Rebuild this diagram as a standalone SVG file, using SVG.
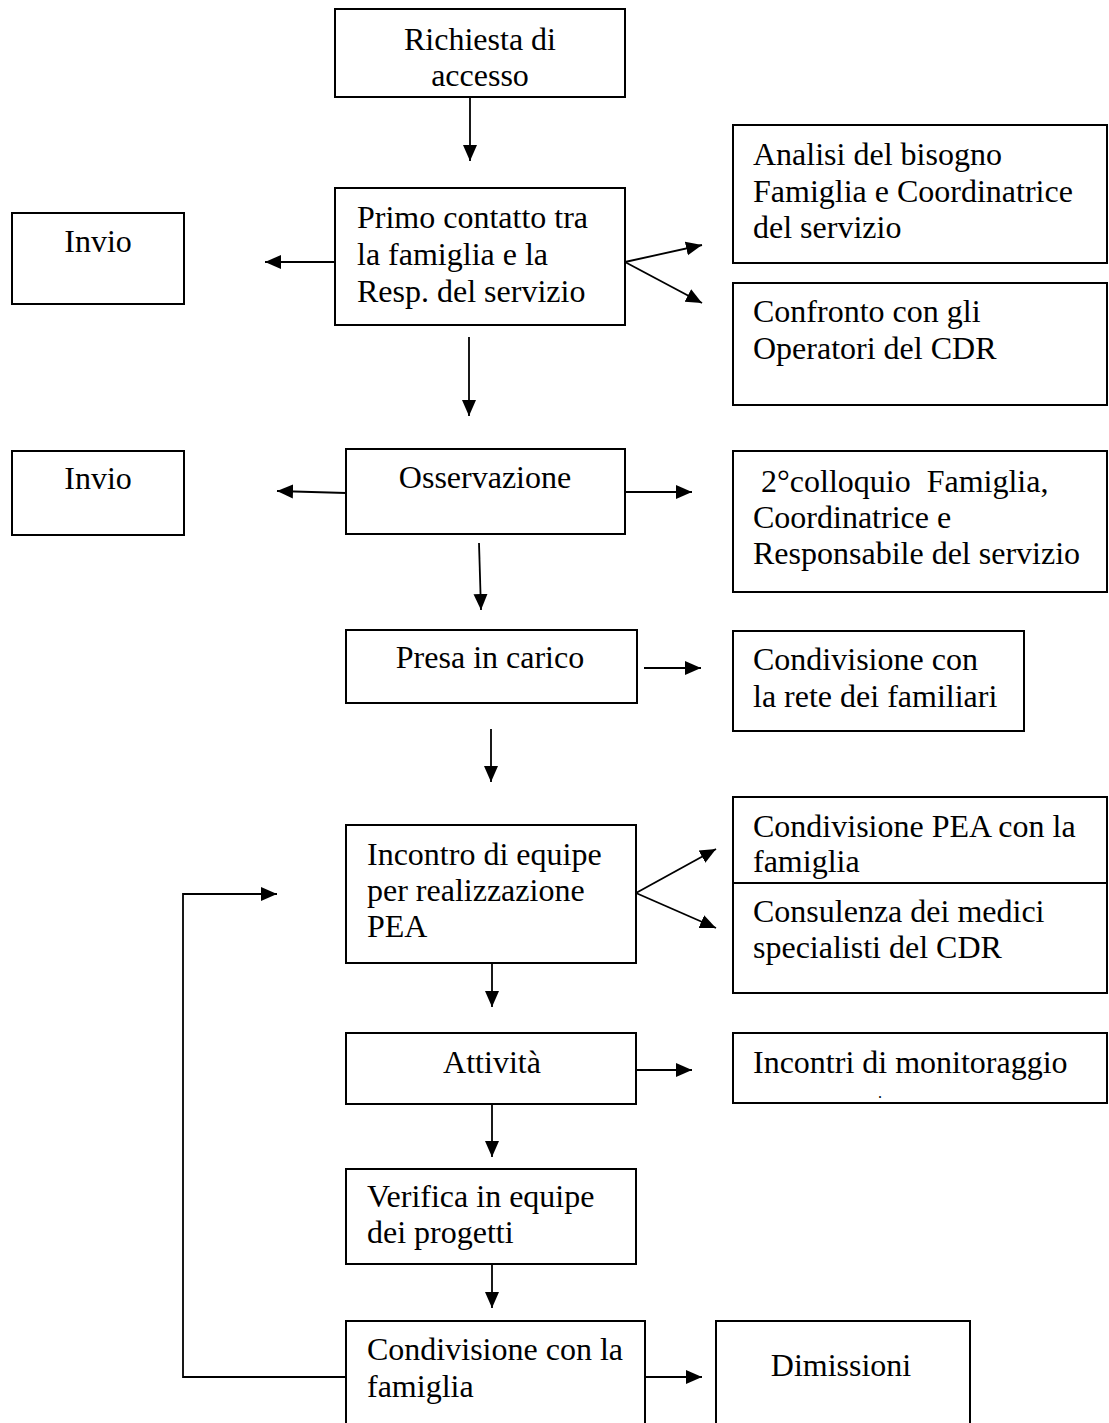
<svg xmlns="http://www.w3.org/2000/svg" width="1109" height="1423" viewBox="0 0 1109 1423">
<style>
  .box { fill: #fff; stroke: #000; stroke-width: 2; }
  .t { font-family: "Liberation Serif", "Times New Roman", serif; font-size: 32px; fill: #000; }
  .c { text-anchor: middle; }
  .pre { white-space: pre; }
  .ln { stroke: #000; stroke-width: 1.8; fill: none; }
</style>
<defs>
  <marker id="ah" markerUnits="userSpaceOnUse" markerWidth="17" markerHeight="16" refX="16" refY="8" orient="auto">
    <path d="M0,1 L16,8 L0,15 z" fill="#000"/>
  </marker>
</defs>
<rect width="1109" height="1423" fill="#fff"/>

<g id="n-richiesta">
  <rect class="box" x="335" y="9" width="290" height="88"/>
  <text class="t c" x="480" y="50">Richiesta di</text>
  <text class="t c" x="480" y="86">accesso</text>
</g>
<g id="n-primo">
  <rect class="box" x="335" y="188" width="290" height="137"/>
  <text class="t" x="357" y="228">Primo contatto tra</text>
  <text class="t" x="357" y="265">la famiglia e la</text>
  <text class="t" x="357" y="302">Resp. del servizio</text>
</g>
<g id="n-invio1">
  <rect class="box" x="12" y="213" width="172" height="91"/>
  <text class="t c" x="98" y="252">Invio</text>
</g>
<g id="n-analisi">
  <rect class="box" x="733" y="125" width="374" height="138"/>
  <text class="t" x="753" y="165">Analisi del bisogno</text>
  <text class="t" x="753" y="202">Famiglia e Coordinatrice</text>
  <text class="t" x="753" y="238">del servizio</text>
</g>
<g id="n-confronto">
  <rect class="box" x="733" y="283" width="374" height="122"/>
  <text class="t" x="753" y="322">Confronto con gli</text>
  <text class="t" x="753" y="359">Operatori del CDR</text>
</g>
<g id="n-invio2">
  <rect class="box" x="12" y="451" width="172" height="84"/>
  <text class="t c" x="98" y="489">Invio</text>
</g>
<g id="n-osservazione">
  <rect class="box" x="346" y="449" width="279" height="85"/>
  <text class="t c" x="485" y="488">Osservazione</text>
</g>
<g id="n-colloquio">
  <rect class="box" x="733" y="451" width="374" height="141"/>
  <text class="t pre" x="753" y="492" xml:space="preserve"> 2°colloquio  Famiglia,</text>
  <text class="t" x="753" y="528">Coordinatrice e</text>
  <text class="t" x="753" y="564">Responsabile del servizio</text>
</g>
<g id="n-presa">
  <rect class="box" x="346" y="630" width="291" height="73"/>
  <text class="t c" x="490" y="668">Presa in carico</text>
</g>
<g id="n-rete">
  <rect class="box" x="733" y="631" width="291" height="100"/>
  <text class="t" x="753" y="670">Condivisione con</text>
  <text class="t" x="753" y="707">la rete dei familiari</text>
</g>
<g id="n-incontro">
  <rect class="box" x="346" y="825" width="290" height="138"/>
  <text class="t" x="367" y="865">Incontro di equipe</text>
  <text class="t" x="367" y="901">per realizzazione</text>
  <text class="t" x="367" y="937">PEA</text>
</g>
<g id="n-condpea">
  <rect class="box" x="733" y="797" width="374" height="86"/>
  <text class="t" x="753" y="837">Condivisione PEA con la</text>
  <text class="t" x="753" y="872">famiglia</text>
</g>
<g id="n-consulenza">
  <rect class="box" x="733" y="883" width="374" height="110"/>
  <text class="t" x="753" y="922">Consulenza dei medici</text>
  <text class="t" x="753" y="958">specialisti del CDR</text>
</g>
<g id="n-attivita">
  <rect class="box" x="346" y="1033" width="290" height="71"/>
  <text class="t c" x="492" y="1073">Attività</text>
</g>
<g id="n-monitoraggio">
  <rect class="box" x="733" y="1033" width="374" height="70"/>
  <text class="t" x="753" y="1073">Incontri di monitoraggio</text>
  <text class="t" x="878" y="1098" style="font-size:16px">.</text>
</g>
<g id="n-verifica">
  <rect class="box" x="346" y="1169" width="290" height="95"/>
  <text class="t" x="367" y="1207">Verifica in equipe</text>
  <text class="t" x="367" y="1243">dei progetti</text>
</g>
<g id="n-condfam">
  <rect class="box" x="346" y="1321" width="299" height="110"/>
  <text class="t" x="367" y="1360">Condivisione con la</text>
  <text class="t" x="367" y="1397">famiglia</text>
</g>
<g id="n-dimissioni">
  <rect class="box" x="716" y="1321" width="254" height="110"/>
  <text class="t c" x="841" y="1376">Dimissioni</text>
</g>

<g id="connectors">
  <line class="ln" x1="470" y1="97" x2="470" y2="161" marker-end="url(#ah)"/>
  <line class="ln" x1="335" y1="262" x2="265" y2="262" marker-end="url(#ah)"/>
  <line class="ln" x1="625" y1="262" x2="702" y2="245" marker-end="url(#ah)"/>
  <line class="ln" x1="625" y1="262" x2="702" y2="303" marker-end="url(#ah)"/>
  <line class="ln" x1="469" y1="337" x2="469" y2="416" marker-end="url(#ah)"/>
  <line class="ln" x1="346" y1="493" x2="277" y2="491" marker-end="url(#ah)"/>
  <line class="ln" x1="625" y1="492" x2="692" y2="492" marker-end="url(#ah)"/>
  <line class="ln" x1="479" y1="543" x2="481" y2="610" marker-end="url(#ah)"/>
  <line class="ln" x1="644" y1="668" x2="701" y2="668" marker-end="url(#ah)"/>
  <line class="ln" x1="491" y1="729" x2="491" y2="782" marker-end="url(#ah)"/>
  <line class="ln" x1="636" y1="893" x2="716" y2="849" marker-end="url(#ah)"/>
  <line class="ln" x1="636" y1="893" x2="716" y2="928" marker-end="url(#ah)"/>
  <line class="ln" x1="492" y1="963" x2="492" y2="1007" marker-end="url(#ah)"/>
  <line class="ln" x1="636" y1="1070" x2="692" y2="1070" marker-end="url(#ah)"/>
  <line class="ln" x1="492" y1="1104" x2="492" y2="1157" marker-end="url(#ah)"/>
  <line class="ln" x1="492" y1="1264" x2="492" y2="1308" marker-end="url(#ah)"/>
  <line class="ln" x1="645" y1="1377" x2="702" y2="1377" marker-end="url(#ah)"/>
  <polyline class="ln" points="346,1377 183,1377 183,894 277,894" marker-end="url(#ah)"/>
</g>
</svg>
